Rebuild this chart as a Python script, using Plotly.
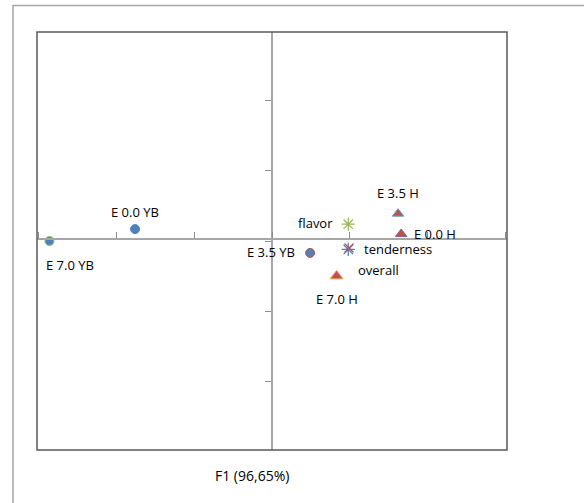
import plotly.graph_objects as go

# Observations (F1, F2)
obs_names = ["E 0.0 YB", "E 3.5 YB", "E 7.0 YB", "E 0.0 H", "E 3.5 H", "E 7.0 H"]
obs_f1 = [-1.76, 0.49, -2.86, 1.66, 1.62, 0.83]
obs_f2 = [0.17, -0.17, 0.0, 0.10, 0.39, -0.50]

# Variables (F1, F2)
var_names = ["flavor", "tenderness", "overall"]
var_f1 = [0.98, 0.98, 0.99]
var_f2 = [0.24, -0.12, -0.10]

x_ticks = [-3, -2, -1, 0, 1, 2, 3]
y_ticks = [-3, -2, -1, 0, 1, 2, 3]
x_title = "F1 (96,65%)"

BLUE = "#4F81BD"; RED = "#C0504D"; GREEN = "#9BBB59"
PURPLE = "#8064A2"; TEAL = "#4BACC6"; ORANGE = "#F79646"

obs_style = {
    "E 0.0 YB": dict(symbol="circle", color=BLUE, line=BLUE, size=9),
    "E 3.5 YB": dict(symbol="circle", color=BLUE, line=RED, size=9),
    "E 7.0 YB": dict(symbol="circle", color=BLUE, line=GREEN, size=9),
    "E 0.0 H": dict(symbol="triangle-up", color=RED, line=PURPLE, size=10),
    "E 3.5 H": dict(symbol="triangle-up", color=RED, line=TEAL, size=10),
    "E 7.0 H": dict(symbol="triangle-up", color=RED, line=ORANGE, size=11),
}
obs_label_shift = {
    "E 0.0 YB": (0, 17), "E 3.5 YB": (-39, 1), "E 7.0 YB": (21, -24),
    "E 0.0 H": (34, 0), "E 3.5 H": (0, 21), "E 7.0 H": (0, -23),
}
var_style = {
    "flavor": dict(symbol="asterisk-open", color=GREEN, size=11),
    "tenderness": dict(symbol="asterisk-open", color=BLUE, size=11),
    "overall": dict(symbol="x-thin-open", color=RED, size=9),
}
var_label_shift = {"flavor": (-33, 1), "tenderness": (50, 0), "overall": (29, -22)}

FONT = "Open Sans"
LBL = 13
fig = go.Figure()

for n, x, y in zip(obs_names, obs_f1, obs_f2):
    s = obs_style[n]
    fig.add_trace(go.Scatter(x=[x], y=[y], mode="markers", name=n,
                             marker=dict(symbol=s["symbol"], color=s["color"], size=s["size"],
                                         line=dict(color=s["line"], width=1))))
    dx, dy = obs_label_shift[n]
    fig.add_annotation(x=x, y=y, text=n, showarrow=False, xshift=dx, yshift=dy,
                       font=dict(family=FONT, size=LBL, color="#000"))

for n, x, y in zip(var_names, var_f1, var_f2):
    s = var_style[n]
    fig.add_trace(go.Scatter(x=[x], y=[y], mode="markers", name=n,
                             marker=dict(symbol=s["symbol"], color=s["color"], size=s["size"],
                                         line=dict(color=s["color"], width=1.3))))
    dx, dy = var_label_shift[n]
    fig.add_annotation(x=x, y=y, text=n, showarrow=False, xshift=dx, yshift=dy,
                       font=dict(family=FONT, size=LBL, color="#000"))

ML, MR, MT, MB = 37, 77, 32, 53
W, H = 584, 503
pw, ph = W - ML - MR, H - MT - MB

fig.update_layout(
    width=W, height=H, margin=dict(l=ML, r=MR, t=MT, b=MB),
    paper_bgcolor="white", plot_bgcolor="white", showlegend=False,
    font=dict(family=FONT, size=12, color="#000"),
    xaxis=dict(range=[-3.02, 3.02], tickvals=x_ticks, showticklabels=False,
               showgrid=False, zeroline=False, showline=True, linecolor="#A6A6A6", linewidth=1.5,
               anchor="free", position=0.505, ticks="inside", ticklen=6, tickcolor="#8C8C8C",
               tickwidth=1),
    yaxis=dict(range=[-2.98, 2.98], tickvals=y_ticks, showticklabels=False,
               showgrid=False, zeroline=False, showline=True, linecolor="#A6A6A6", linewidth=1.5,
               anchor="free", position=0.5, ticks="outside", ticklen=6, tickcolor="#8C8C8C",
               tickwidth=1),
)

# plot-area frame
fig.add_shape(type="rect", xref="paper", yref="paper", x0=0, x1=1, y0=0, y1=1,
              line=dict(color="#595959", width=1.5), layer="above")
# outer chart-area border (extends past the visible region)
fig.add_shape(type="rect", xref="paper", yref="paper",
              x0=(13 - ML) / pw, x1=(620 - ML) / pw,
              y0=(H - MB - 540) / ph, y1=(H - MB - 5.5) / ph,
              line=dict(color="#A6A6A6", width=1.5), layer="above")

fig.add_annotation(xref="paper", yref="paper", x=(252 - ML) / pw, y=(H - MB - 487) / ph,
                   text=x_title, showarrow=False, font=dict(family=FONT, size=14, color="#000"))

fig.write_html("out.html", config={"displayModeBar": False},
               post_script="document.body.style.margin='0px';document.body.style.overflow='hidden';")
